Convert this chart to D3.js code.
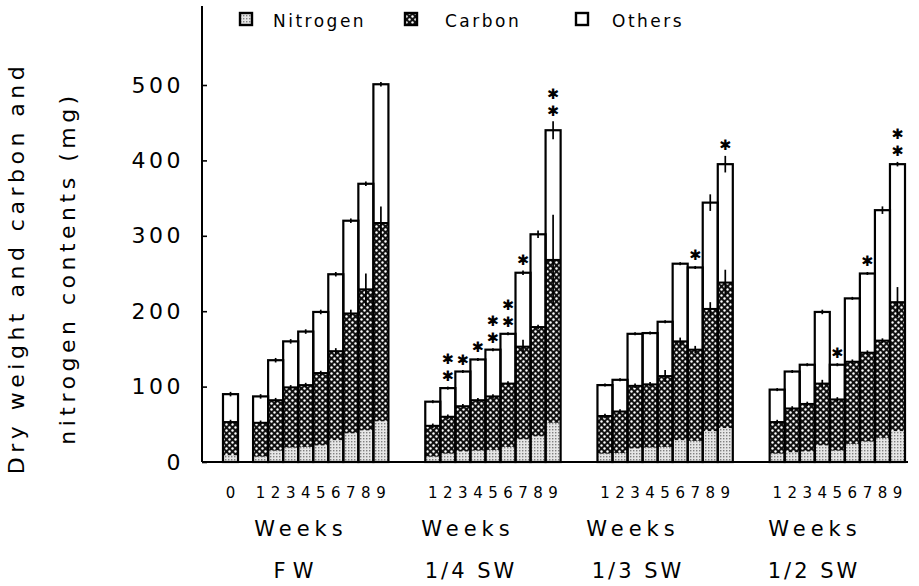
<!DOCTYPE html>
<html><head><meta charset="utf-8">
<script src="https://cdn.jsdelivr.net/npm/d3@7"></script>
<style>html,body{margin:0;padding:0;background:#fff;} svg{display:block;}</style>
</head><body>
<svg id="chart" width="919" height="586"></svg>
<script>
// ---------- data ----------
const groups = ["FW", "1/4 SW", "1/3 SW", "1/2 SW"];
const groupLabels = ["FW", "1/4 SW", "1/3 SW", "1/2 SW"];
const weeksFW = [0, 1, 2, 3, 4, 5, 6, 7, 8, 9];
const weeksSW = [1, 2, 3, 4, 5, 6, 7, 8, 9];
const yTicks = [0, 100, 200, 300, 400, 500];
const seriesKeys = ["Nitrogen", "Carbon", "Others"];
const axisTitle = ["Dry weight and carbon and", "nitrogen contents (mg)"];
const xTitle = "Weeks";
const starChar = "\u2731";

// segment values (mg)
const nitrogenFW = [9, 7, 15, 19, 20, 22, 29, 38, 42, 54];
const carbonFW   = [44, 45, 67, 80, 82, 96, 118, 159, 187, 263];
const othersFW   = [37, 35, 53, 61, 71, 81, 102, 123, 140, 184];

const nitrogenSW4 = [7, 11, 14, 15, 16, 20, 30, 34, 52];
const carbonSW4   = [41, 49, 60, 67, 71, 84, 123, 145, 216];
const othersSW4   = [32, 38, 46, 54, 62, 66, 98, 123, 172];

const nitrogenSW3 = [11, 12, 18, 19, 20, 29, 28, 41, 45];
const carbonSW3   = [50, 55, 83, 84, 94, 131, 121, 162, 193];
const othersSW3   = [41, 42, 69, 68, 72, 103, 109, 141, 157];

const nitrogenSW2 = [11, 13, 14, 22, 15, 24, 27, 32, 41];
const carbonSW2   = [42, 58, 63, 82, 68, 109, 118, 129, 171];
const othersSW2   = [43, 49, 52, 95, 46, 84, 105, 173, 183];

// error bars (mg) on total dry weight and on carbon top
const totErrFW  = [3, 3, 3, 3, 3, 3, 3, 3, 3, 3];
const carbErrFW = [3, 3, 3, 3, 3, 3, 4, 5, 21, 22];
const totErrSW4  = [2, 2, 2, 2, 2, 2, 3, 5, 12];
const carbErrSW4 = [3, 3, 3, 3, 3, 3, 9, 3, 60];
const totErrSW3  = [2, 2, 2, 2, 2, 2, 2, 11, 11];
const carbErrSW3 = [3, 3, 3, 3, 8, 5, 5, 9, 17];
const totErrSW2  = [2, 2, 2, 3, 2, 2, 2, 5, 3];
const carbErrSW2 = [3, 3, 3, 5, 3, 3, 3, 3, 20];

// significance asterisks
const starsFW  = [0, 0, 0, 0, 0, 0, 0, 0, 0, 0];
const starsSW4 = [0, 2, 1, 1, 2, 2, 1, 0, 2];
const starsSW3 = [0, 0, 0, 0, 0, 0, 1, 0, 1];
const starsSW2 = [0, 0, 0, 0, 1, 0, 1, 0, 2];

// ---------- assemble ----------
const table = [
  {weeks: weeksFW, N: nitrogenFW, C: carbonFW, O: othersFW, te: totErrFW, ce: carbErrFW, st: starsFW},
  {weeks: weeksSW, N: nitrogenSW4, C: carbonSW4, O: othersSW4, te: totErrSW4, ce: carbErrSW4, st: starsSW4},
  {weeks: weeksSW, N: nitrogenSW3, C: carbonSW3, O: othersSW3, te: totErrSW3, ce: carbErrSW3, st: starsSW3},
  {weeks: weeksSW, N: nitrogenSW2, C: carbonSW2, O: othersSW2, te: totErrSW2, ce: carbErrSW2, st: starsSW2}
];

// layout constants
const gapSlots = 2.45;
const weeksLabelCenters = [301, 468, 633, 815];
const groupLabelCenters = [297, 471, 638, 814];

let offset = 0;
const rows = [];
const groupInfo = [];
table.forEach((t, gi) => {
  const nSlots = gi === 0 ? t.weeks.length + 1 : t.weeks.length;
  groupInfo.push({name: groupLabels[gi], wx: weeksLabelCenters[gi], gx: groupLabelCenters[gi]});
  t.weeks.forEach((w, i) => {
    const slot = gi === 0 ? (w === 0 ? offset : offset + w + 1) : offset + w - 1;
    rows.push({group: groups[gi], week: w, slot: slot,
      Nitrogen: t.N[i], Carbon: t.C[i], Others: t.O[i],
      totErr: t.te[i], carbErr: t.ce[i], stars: t.st[i]});
  });
  offset += nSlots + gapSlots;
});
const totalSlots = offset - gapSlots;

const stacked = d3.stack().keys(seriesKeys)(rows);

// ---------- scales ----------
const svg = d3.select("#chart");
const x = d3.scaleLinear().domain([0, totalSlots]).range([223, 905]);
const y = d3.scaleLinear().domain([0, 500]).range([462, 85]);
const font = "'DejaVu Sans', sans-serif";

// ---------- patterns ----------
const defs = svg.append("defs");
const pN = defs.append("pattern").attr("id", "pN").attr("patternUnits", "userSpaceOnUse")
  .attr("width", 3).attr("height", 3);
pN.append("rect").attr("width", 3).attr("height", 3).attr("fill", "#e6e6e6");
pN.append("rect").attr("width", 1.4).attr("height", 1.4).attr("fill", "#808080");
const pC = defs.append("pattern").attr("id", "pC").attr("patternUnits", "userSpaceOnUse")
  .attr("width", 6).attr("height", 6);
pC.append("rect").attr("width", 6).attr("height", 6).attr("fill", "#111");
pC.append("circle").attr("cx", 1.5).attr("cy", 1.5).attr("r", 1.2).attr("fill", "#fff");
pC.append("circle").attr("cx", 4.5).attr("cy", 4.5).attr("r", 1.2).attr("fill", "#fff");
const fills = {Nitrogen: "url(#pN)", Carbon: "url(#pC)", Others: "#fff"};

// ---------- bars ----------
const gBars = svg.append("g");
stacked.forEach(layer => {
  gBars.selectAll(null).data(layer).join("rect")
    .attr("x", d => x(d.data.slot))
    .attr("width", d => x(d.data.slot + 1) - x(d.data.slot))
    .attr("y", d => y(d[1]))
    .attr("height", d => y(d[0]) - y(d[1]))
    .attr("fill", fills[layer.key]);
});
const total = d => d.Nitrogen + d.Carbon + d.Others;
const cTop = d => d.Nitrogen + d.Carbon;
gBars.selectAll(null).data(rows).join("rect")
  .attr("x", d => x(d.slot)).attr("width", d => x(d.slot + 1) - x(d.slot))
  .attr("y", d => y(total(d))).attr("height", d => y(0) - y(total(d)))
  .attr("fill", "none").attr("stroke", "#000").attr("stroke-width", 2.2);
gBars.selectAll(null).data(rows).join("line")
  .attr("x1", d => x(d.slot)).attr("x2", d => x(d.slot + 1))
  .attr("y1", d => y(cTop(d))).attr("y2", d => y(cTop(d)))
  .attr("stroke", "#000").attr("stroke-width", 2);
const cx = d => x(d.slot + 0.5);
gBars.selectAll(null).data(rows).join("line")
  .attr("x1", cx).attr("x2", cx)
  .attr("y1", d => y(total(d) + d.totErr)).attr("y2", d => y(total(d) - d.totErr))
  .attr("stroke", "#000").attr("stroke-width", 1.7);
gBars.selectAll(null).data(rows).join("line")
  .attr("x1", cx).attr("x2", cx)
  .attr("y1", d => y(cTop(d) + d.carbErr)).attr("y2", d => y(cTop(d) - d.carbErr))
  .attr("stroke", "#000").attr("stroke-width", 1.7);

// asterisks
const starData = [];
rows.forEach(d => { for (let k = 0; k < d.stars; k++) starData.push({d, k}); });
svg.append("g").selectAll("text").data(starData).join("text")
  .attr("x", s => cx(s.d))
  .attr("y", s => y(total(s.d) + s.d.totErr) - 11 - s.k * 17 + 5.5)
  .attr("text-anchor", "middle")
  .attr("font-family", font).attr("font-size", 14.5).text(starChar);

// ---------- axes ----------
svg.append("line").attr("x1", 202).attr("x2", 202).attr("y1", 6).attr("y2", y(0))
  .attr("stroke", "#000").attr("stroke-width", 2);
svg.append("line").attr("x1", 202).attr("x2", 908).attr("y1", y(0)).attr("y2", y(0))
  .attr("stroke", "#000").attr("stroke-width", 2);
const yAxis = svg.append("g").attr("transform", "translate(202,0)")
  .call(d3.axisLeft(y).tickValues(yTicks).tickSizeInner(-5).tickSizeOuter(0).tickPadding(18));
yAxis.select(".domain").remove();
yAxis.selectAll(".tick line").attr("stroke", "#000").attr("stroke-width", 1.6);
yAxis.selectAll(".tick text").attr("font-family", font).attr("font-size", 22)
  .attr("letter-spacing", "3.5px").attr("fill", "#000");

// week tick labels
svg.append("g").selectAll("text").data(rows).join("text")
  .attr("x", d => cx(d)).attr("y", 498)
  .attr("text-anchor", "middle").attr("font-family", font).attr("font-size", 15)
  .text(d => d.week);

// titles under each group
svg.append("g").selectAll("text").data(groupInfo).join("text")
  .attr("x", g => g.wx).attr("y", 536).attr("text-anchor", "middle")
  .attr("font-family", font).attr("font-size", 21).attr("letter-spacing", "5px")
  .text(xTitle);
svg.append("g").selectAll("text").data(groupInfo).join("text")
  .attr("x", g => g.gx).attr("y", 578).attr("text-anchor", "middle")
  .attr("font-family", font).attr("font-size", 21)
  .attr("letter-spacing", g => g.name === "FW" ? "7px" : "3px")
  .text(g => g.name);

// y axis title
axisTitle.forEach((t, i) => {
  svg.append("text")
    .attr("transform", `translate(${i === 0 ? 24 : 75},268) rotate(-90)`)
    .attr("text-anchor", "middle").attr("font-family", font).attr("font-size", 22)
    .attr("letter-spacing", "4.5px").text(t);
});

// ---------- legend ----------
const legendX = [240, 405, 576];
const legendTextX = [273, 445, 612];
const lg = svg.append("g");
seriesKeys.forEach((k, i) => {
  lg.append("rect").attr("x", legendX[i]).attr("y", 13).attr("width", 12).attr("height", 12)
    .attr("fill", fills[k]).attr("stroke", "#000").attr("stroke-width", 2.4);
  lg.append("text").attr("x", legendTextX[i]).attr("y", 27)
    .attr("font-family", font).attr("font-size", 17).attr("letter-spacing", "2.5px").text(k);
});
</script>
</body></html>
